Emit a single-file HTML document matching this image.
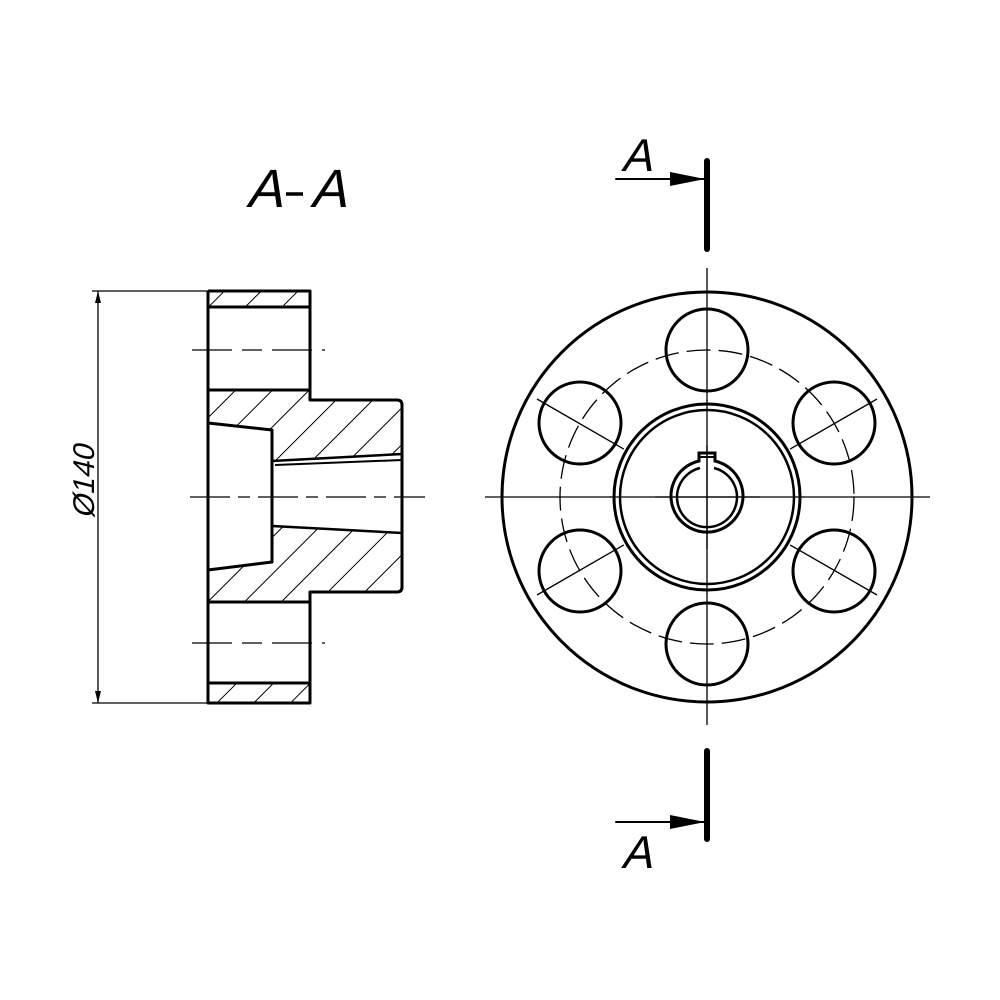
<!DOCTYPE html>
<html><head><meta charset="utf-8"><style>html,body{margin:0;padding:0;background:#fff}svg{display:block}</style></head>
<body>
<svg width="1000" height="1000" viewBox="0 0 1000 1000" xmlns="http://www.w3.org/2000/svg">
<defs>
<pattern id="h" patternUnits="userSpaceOnUse" width="26" height="26" patternTransform="rotate(45)">
<line x1="0" y1="0" x2="0" y2="26" stroke="#000" stroke-width="2"/>
</pattern>
<marker id="ar" markerWidth="12" markerHeight="6" refX="12" refY="3" orient="auto" markerUnits="userSpaceOnUse">
<path d="M0,0 L12,3 L0,6 Z" fill="#000"/></marker>
<marker id="al" markerWidth="12" markerHeight="6" refX="0" refY="3" orient="auto" markerUnits="userSpaceOnUse">
<path d="M12,0 L0,3 L12,6 Z" fill="#000"/></marker>
</defs>
<rect width="1000" height="1000" fill="#fff"/>
<g font-family="Liberation Sans, sans-serif" fill="#000">
<text transform="translate(246,207) skewX(-14)" font-size="54">A</text>
<text transform="translate(310,207) skewX(-14)" font-size="54">A</text>
<text transform="translate(621,171) skewX(-14)" font-size="46">A</text>
<text transform="translate(621,868) skewX(-14)" font-size="46">A</text>
<text transform="translate(94,482) rotate(-90) skewX(-14)" font-size="30" text-anchor="middle">Ø140</text>
</g>
<line x1="286" y1="194" x2="303" y2="194" stroke="#000" stroke-width="3.5"/>
<g fill="url(#h)">
<rect x="208" y="291" width="102" height="16"/>
<rect x="208" y="683" width="102" height="20"/>
<path d="M208,390 L310,390 L310,400 L402,400 L402,454 L272,461 L272,430 L208,423 Z"/>
<path d="M208,570 L272,562 L272,526 L402,533 L402,592 L310,592 L310,602 L208,602 Z"/>
</g>
<g fill="none" stroke="#000" stroke-width="3" stroke-linejoin="round">
<path d="M208,291 H310 V400 H397 Q402,400 402,405 V587 Q402,592 397,592 H310 V703 H208 V291"/>
<line x1="208" y1="307" x2="310" y2="307"/>
<line x1="208" y1="390" x2="310" y2="390"/>
<line x1="208" y1="602" x2="310" y2="602"/>
<line x1="208" y1="683" x2="310" y2="683"/>
<path d="M208,423 L272,430 L272,562 L208,570"/>
<line x1="272" y1="461" x2="402" y2="454" stroke-width="2.5"/>
<line x1="275" y1="465" x2="402" y2="460" stroke-width="2"/>
<line x1="272" y1="526" x2="402" y2="533" stroke-width="2.5"/>
</g>
<g stroke="#000" stroke-width="1.3" fill="none">
<line x1="190" y1="497" x2="425" y2="497" stroke-dasharray="40,8,12,8"/>
<line x1="192" y1="350" x2="325" y2="350" stroke-dasharray="40,10,20,10"/>
<line x1="192" y1="643" x2="325" y2="643" stroke-dasharray="40,10,20,10"/>
<line x1="92" y1="291" x2="208" y2="291"/>
<line x1="92" y1="703" x2="208" y2="703"/>
<line x1="98" y1="291" x2="98" y2="703" marker-start="url(#al)" marker-end="url(#ar)"/>
</g>
<g stroke="#000" fill="none">
<circle cx="707" cy="497" r="205" stroke-width="3"/>
<circle cx="707" cy="497" r="147" stroke-width="1.3" stroke-dasharray="24,8"/>
<g stroke-width="1.3">
<line x1="485" y1="497" x2="930" y2="497"/>
<line x1="707" y1="268" x2="707" y2="725"/>
<line x1="537" y1="399" x2="877" y2="595"/>
<line x1="537" y1="595" x2="877" y2="399"/>
</g>
<g stroke-width="3">
<circle cx="707" cy="350" r="41"/>
<circle cx="707" cy="644" r="41"/>
<circle cx="580" cy="423" r="41"/>
<circle cx="834" cy="423" r="41"/>
<circle cx="580" cy="571" r="41"/>
<circle cx="834" cy="571" r="41"/>
</g>
<circle cx="707" cy="497" r="96" fill="#fff" stroke="none"/>
<line x1="707" y1="400" x2="707" y2="594" stroke-width="1.3"/>
<line x1="610" y1="497" x2="804" y2="497" stroke-width="1.3"/>
<circle cx="707" cy="497" r="93" stroke-width="3"/>
<circle cx="707" cy="497" r="87" stroke-width="2.5"/>
<path d="M699,461 A36,36 0 1 0 715,461 V453 H699 Z" stroke-width="3"/>
<path d="M700,468 A30,30 0 1 0 714,468" stroke-width="2.5"/>
<line x1="699" y1="457" x2="715" y2="457" stroke-width="2"/>
<line x1="707" y1="445" x2="707" y2="549" stroke-width="1.3"/>
<line x1="655" y1="497" x2="760" y2="497" stroke-width="1.3"/>
</g>
<g stroke="#000" stroke-linecap="round">
<line x1="707" y1="161" x2="707" y2="249" stroke-width="6"/>
<line x1="707" y1="751" x2="707" y2="839" stroke-width="6"/>
<line x1="616" y1="179" x2="704" y2="179" stroke-width="2"/>
<line x1="616" y1="822" x2="704" y2="822" stroke-width="2"/>
</g>
<path d="M670,172 L705,179 L670,186 Z" fill="#000"/>
<path d="M670,815 L705,822 L670,829 Z" fill="#000"/>
</svg>
</body></html>
